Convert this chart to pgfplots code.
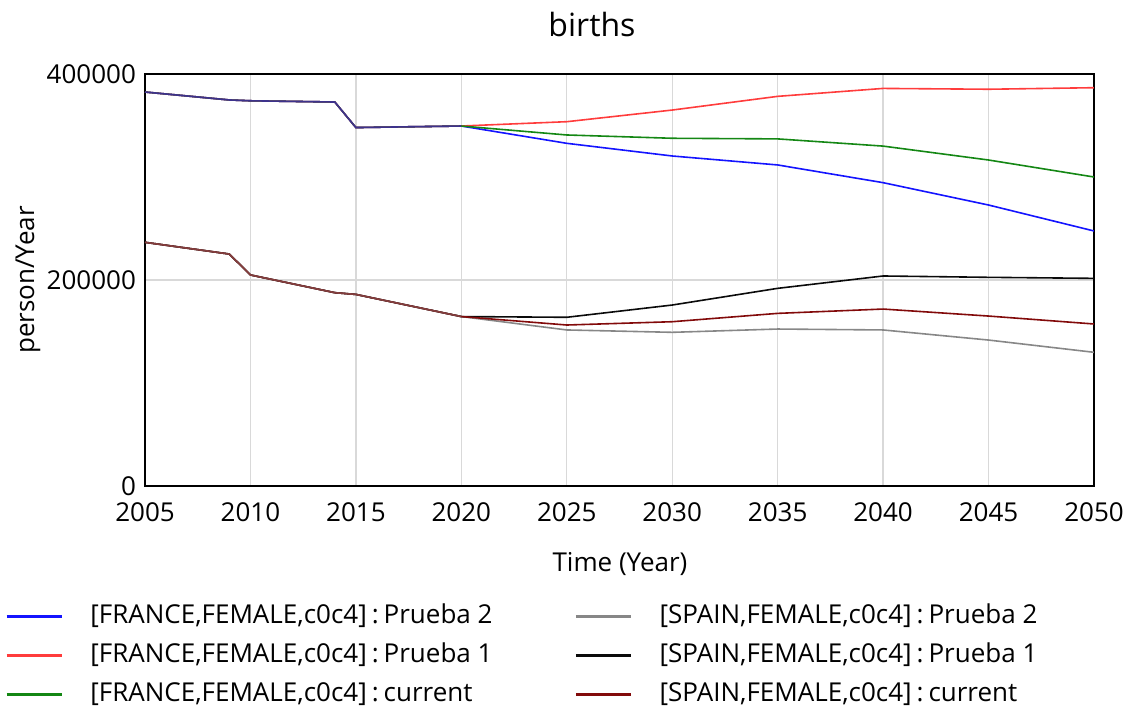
\documentclass[border=0pt]{standalone}
\usepackage{fontspec}
\setmainfont{Open Sans}
\usepackage{pgfplots}
\pgfplotsset{compat=1.18}
\definecolor{cblue}{RGB}{20,20,255}
\definecolor{cred}{RGB}{255,60,60}
\definecolor{cgreen}{RGB}{20,135,20}
\definecolor{cgray}{RGB}{135,135,135}
\definecolor{cblack}{RGB}{10,10,10}
\definecolor{cdred}{RGB}{130,10,10}
\newcommand{\cl}{\hspace{2.5pt}:\hspace{2.5pt}}
\begin{document}
\begin{tikzpicture}
\useasboundingbox (0,0) rectangle (566pt,354.5pt);
\begin{axis}[
  at={(72.5pt,111.5pt)}, anchor=south west,
  scale only axis, width=474.5pt, height=206pt,
  xmin=2005, xmax=2050, ymin=0, ymax=400000,
  xtick={2005,2010,...,2050}, ytick={0,200000,400000},
  scaled y ticks=false,
  /pgf/number format/.cd, fixed, 1000 sep={}, assume math mode=true, /pgfplots/.cd,
  xticklabel style={/pgf/number format/1000 sep={}},
  major tick length=0pt,
  tick label style={font=\fontsize{13pt}{15pt}\selectfont},
  xticklabel style={yshift=-5pt},
  yticklabel style={xshift=-1pt},
  grid=major, grid style={color=black!15, line width=0.7pt},
  axis line style={line width=1pt},
  title={births},
  title style={font=\fontsize{16pt}{19pt}\selectfont, at={(axis description cs:0.471,1.092)}, anchor=center},
  xlabel={Time (Year)},
  xlabel style={font=\fontsize{13pt}{15pt}\selectfont, at={(axis description cs:0.5005,-0.19)}, anchor=center},
  ylabel={person/Year},
  ylabel style={font=\fontsize{13pt}{15pt}\selectfont, at={(axis description cs:-0.1233,0.5)}, anchor=center, rotate=0},
  legend columns=2,
  legend image code/.code={\draw[#1, line width=1.5pt] (0pt,0pt) -- (27.5pt,0pt); \path (41.5pt,0pt);},
  legend style={draw=none, fill=none, inner sep=0pt, outer sep=0pt,
    at={(axis description cs:-0.1475,-0.284)}, anchor=north west,
    column sep=0pt, row sep=6.5pt,
    font=\fontsize{13pt}{15pt}\selectfont,
    nodes={inner sep=0pt, text height=10pt, text depth=3pt, anchor=west}},
  legend cell align=left,
  every axis plot/.append style={line width=0.8pt},
]
% FRANCE Prueba 2
\addplot[cblue] coordinates {(2005,382500)(2009,374800)(2010,374000)(2014,372800)(2015,348000)(2020,349500)
  (2025,332700)(2030,320400)(2035,311700)(2040,294500)(2045,272800)(2050,247600)};
\addlegendentry{\makebox[242pt][l]{[FRANCE,FEMALE,c0c4]\cl Prueba 2}}
% SPAIN Prueba 2
\addplot[cgray] coordinates {(2005,236600)(2009,225200)(2010,204900)(2014,187700)(2015,186000)(2020,164500)
  (2025,151500)(2030,149200)(2035,152400)(2040,151500)(2045,141700)(2050,129800)};
\addlegendentry{[SPAIN,FEMALE,c0c4]\cl Prueba 2}
% FRANCE Prueba 1
\addplot[cred] coordinates {(2005,382500)(2009,374800)(2010,374000)(2014,372800)(2015,348000)(2020,349500)
  (2025,353700)(2030,365000)(2035,378300)(2040,386000)(2045,385200)(2050,386700)};
\addlegendentry{\makebox[242pt][l]{[FRANCE,FEMALE,c0c4]\cl Prueba 1}}
% SPAIN Prueba 1
\addplot[cblack] coordinates {(2005,236600)(2009,225200)(2010,204900)(2014,187700)(2015,186000)(2020,164500)
  (2025,163800)(2030,175700)(2035,191900)(2040,203900)(2045,202600)(2050,201600)};
\addlegendentry{[SPAIN,FEMALE,c0c4]\cl Prueba 1}
% FRANCE current
\addplot[cgreen] coordinates {(2005,382500)(2009,374800)(2010,374000)(2014,372800)(2015,348000)(2020,349500)
  (2025,340800)(2030,337600)(2035,337000)(2040,330000)(2045,316500)(2050,300000)};
\addlegendentry{\makebox[242pt][l]{[FRANCE,FEMALE,c0c4]\cl current}}
% SPAIN current
\addplot[cdred] coordinates {(2005,236600)(2009,225200)(2010,204900)(2014,187700)(2015,186000)(2020,164500)
  (2025,156300)(2030,159500)(2035,167600)(2040,171800)(2045,165000)(2050,157300)};
\addlegendentry{[SPAIN,FEMALE,c0c4]\cl current}
% overlap colour of the shared history
\addplot[cblue!75!red, opacity=0.7, forget plot] coordinates {(2005,382500)(2009,374800)(2010,374000)(2014,372800)(2015,348000)(2020,349500)};
\addplot[cgray!70!cdred, opacity=0.6, forget plot] coordinates {(2005,236600)(2009,225200)(2010,204900)(2014,187700)(2015,186000)(2020,164500)};
\end{axis}
\end{tikzpicture}
\end{document}
